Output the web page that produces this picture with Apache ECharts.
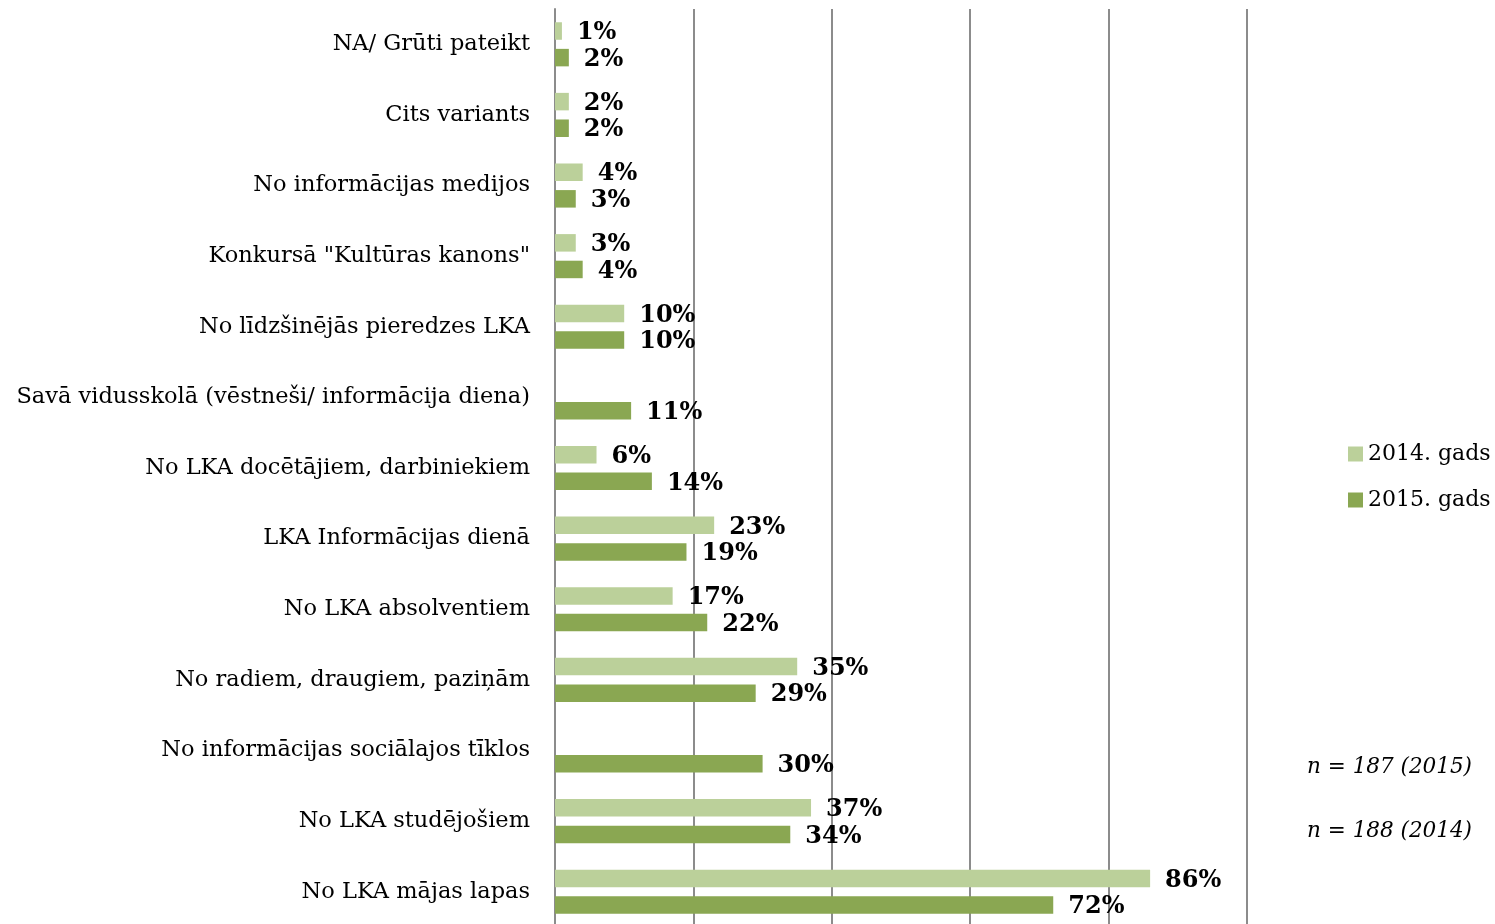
<!DOCTYPE html>
<html>
<head>
<meta charset="utf-8">
<script src="https://cdn.jsdelivr.net/npm/echarts@6/dist/echarts.min.js"></script>
<style>
  html, body { margin: 0; padding: 0; background: #fff; }
  #chart { width: 1495px; height: 924px; }
</style>
</head>
<body>
<div id="chart"></div>
<script>
const categories = [
  'NA/ Grūti pateikt',
  'Cits variants',
  'No informācijas medijos',
  'Konkursā "Kultūras kanons"',
  'No līdzšinējās pieredzes LKA',
  'Savā vidusskolā (vēstneši/ informācija diena)',
  'No LKA docētājiem, darbiniekiem',
  'LKA Informācijas dienā',
  'No LKA absolventiem',
  'No radiem, draugiem, paziņām',
  'No informācijas sociālajos tīklos',
  'No LKA studējošiem',
  'No LKA mājas lapas'
];
const values2014 = [1, 2, 4, 3, 10, null, 6, 23, 17, 35, null, 37, 86];
const values2015 = [2, 2, 3, 4, 10, 11, 14, 19, 22, 29, 30, 34, 72];
const seriesNames = ['2014. gads', '2015. gads'];
const notes = ['n = 187 (2015)', 'n = 188 (2014)'];

const font = '"DejaVu Serif", "Liberation Serif", serif';

const barLabel = {
  show: true,
  position: 'right',
  distance: 15,
  offset: [0, 2],
  formatter: '{c}%',
  fontFamily: font,
  fontWeight: 'bold',
  fontSize: 24,
  color: '#000'
};

const option = {
  animation: false,
  textStyle: { fontFamily: font },
  grid: {
    left: 555,
    right: 248,
    top: 9,
    height: 918,
    outerBoundsMode: 'none',
    containLabel: false
  },
  legend: {
    orient: 'vertical',
    left: 1343,
    top: 438,
    itemWidth: 15,
    itemHeight: 15,
    itemGap: 24,
    icon: 'rect',
    textStyle: { fontFamily: font, fontSize: 22, color: '#000' },
    data: seriesNames
  },
  xAxis: {
    type: 'value',
    min: 0,
    max: 100,
    interval: 20,
    axisLine: { show: false },
    axisTick: { show: false },
    axisLabel: { show: false },
    splitLine: { lineStyle: { color: '#8c8c8c', width: 2 } }
  },
  yAxis: {
    type: 'category',
    inverse: true,
    data: categories,
    axisLine: { show: true, lineStyle: { color: '#8c8c8c', width: 2 } },
    axisTick: { show: false },
    axisLabel: {
      fontFamily: font, fontSize: 22.5, color: '#000', margin: 25,
      padding: [4, 0, 0, 0]
    }
  },
  series: [
    {
      name: seriesNames[0],
      type: 'bar',
      data: values2014,
      barWidth: 17.5,
      barGap: '52%',
      itemStyle: { color: '#bbd09a' },
      label: barLabel
    },
    {
      name: seriesNames[1],
      type: 'bar',
      data: values2015,
      barWidth: 17.5,
      itemStyle: { color: '#8aa752' },
      label: barLabel
    }
  ],
  graphic: [
    {
      type: 'text', right: 23, top: 756,
      style: { text: notes[0], font: 'italic 21.5px ' + font, fill: '#000' }
    },
    {
      type: 'text', right: 23, top: 820,
      style: { text: notes[1], font: 'italic 21.5px ' + font, fill: '#000' }
    }
  ]
};

const myChart = echarts.init(document.getElementById('chart'));
myChart.setOption(option);
</script>
</body>
</html>
